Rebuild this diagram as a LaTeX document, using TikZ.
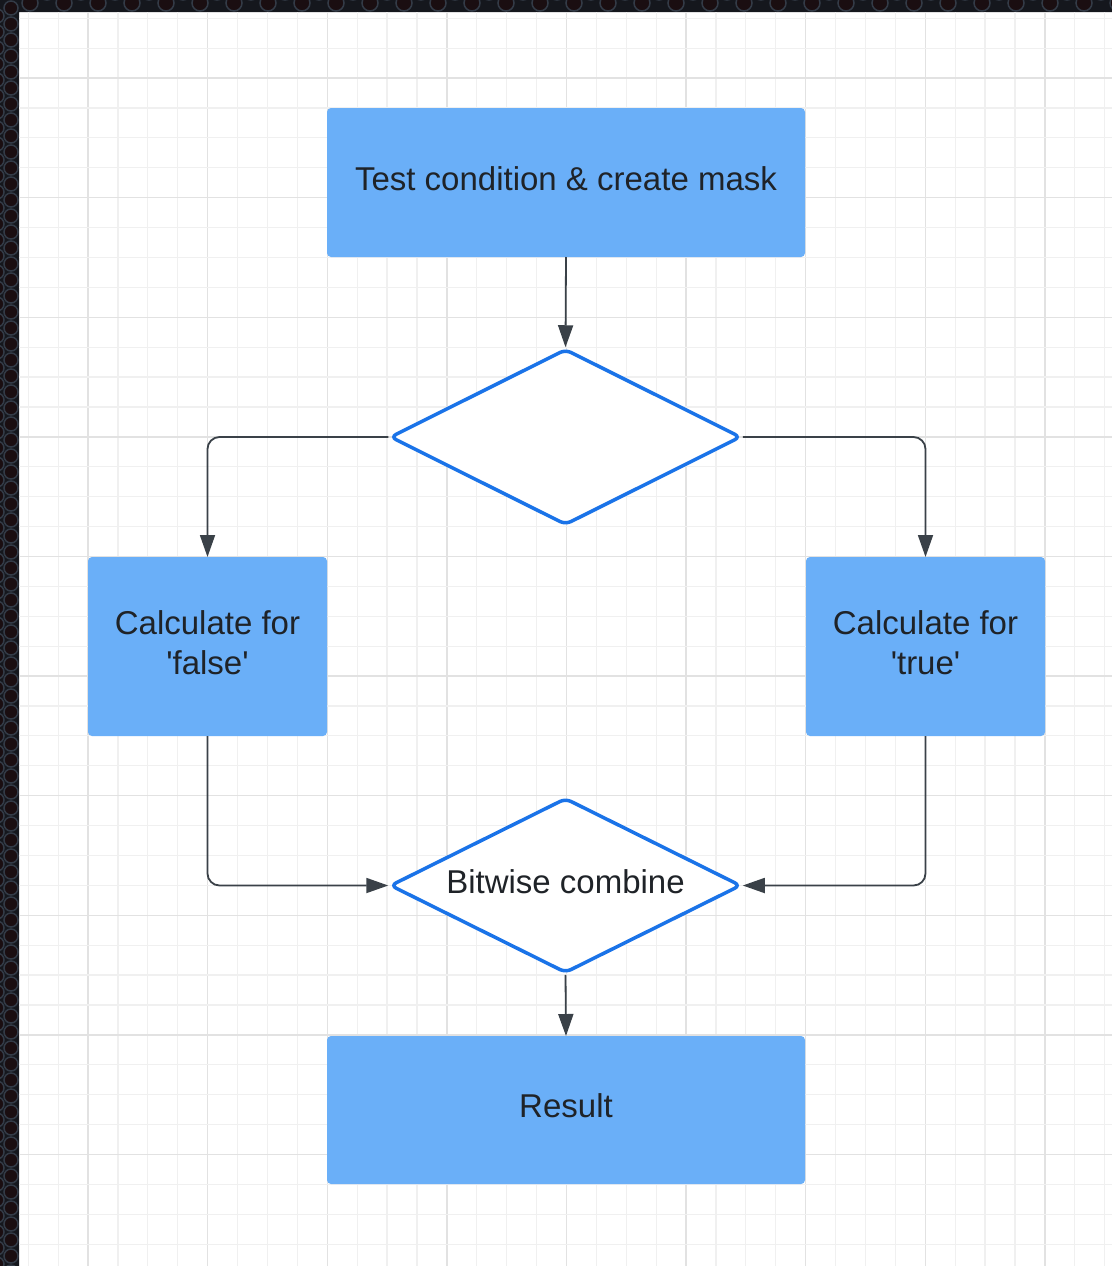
\documentclass[tikz,border=0pt]{standalone}
\usepackage{fontspec}
\setmainfont{Liberation Sans}
\usetikzlibrary{shapes.geometric,arrows.meta}

\definecolor{boxfill}{HTML}{6AAFF8}
\definecolor{diaedge}{HTML}{1A73E8}
\definecolor{wire}{HTML}{3A4148}
\definecolor{inkc}{HTML}{1F2328}
\definecolor{gridminor}{HTML}{F0F0F0}
\definecolor{gridmajor}{HTML}{E2E2E2}
\definecolor{frame}{HTML}{15171D}
\definecolor{holefill}{HTML}{1A0E11}
\definecolor{holering}{HTML}{333B47}

\tikzset{
  procbox/.style={rectangle, fill=boxfill, rounded corners=4pt, inner sep=0pt, outer sep=0pt},
  decision/.style={diamond, shape aspect=2, draw=diaedge, line width=3.5pt, fill=white, rounded corners=6pt,
    inner sep=0pt, minimum width=351pt, minimum height=176pt},
  caption/.style={text=inkc, align=center, font=\fontsize{33}{40}\selectfont, inner sep=0pt, yshift=4pt},
  link/.style={draw=wire, line width=1.8pt, rounded corners=12pt,
    -{Triangle[length=22pt,width=15pt]}},
}

\begin{document}
\begin{tikzpicture}[x=1pt,y=-1pt]
\useasboundingbox (0,0) rectangle (1112,1266);
\fill[white] (0,0) rectangle (1112,1266);

% dark perforated frame along the top and left edges
\begin{scope}
  \clip (0,0) rectangle (1112,12) (0,0) rectangle (19,1266);
  \fill[frame] (0,0) rectangle (1112,1266);
  \foreach \i in {0,...,79} {
    \filldraw[fill=holefill, draw=holering, line width=1.5pt] (11,8+16*\i) circle (7);
    \filldraw[fill=holefill, draw=holering, line width=1.5pt] (-3,16+16*\i) circle (7);
  }
  \foreach \i in {0,...,33} {
    \filldraw[fill=holefill, draw=holering, line width=1.5pt] (30+34*\i,3) circle (8);
    \filldraw[fill=holefill, draw=holering, line width=1.5pt] (47+34*\i,-8) circle (8);
  }
\end{scope}

% background grid
\begin{scope}
  \clip (19,12) rectangle (1112,1266);
  \foreach \i in {0,...,36} {
    \pgfmathsetmacro{\gx}{28.2+29.9*\i}
    \pgfmathtruncatemacro{\m}{mod(\i,4)}
    \ifnum\m=2
      \draw[gridmajor, line width=1.4pt] (\gx,12) -- (\gx,1266);
    \else
      \draw[gridminor, line width=1.2pt] (\gx,12) -- (\gx,1266);
    \fi
  }
  \foreach \i in {0,...,42} {
    \pgfmathsetmacro{\gy}{18.2+29.9*\i}
    \pgfmathtruncatemacro{\m}{mod(\i,4)}
    \ifnum\m=2
      \draw[gridmajor, line width=1.4pt] (19,\gy) -- (1112,\gy);
    \else
      \draw[gridminor, line width=1.2pt] (19,\gy) -- (1112,\gy);
    \fi
  }
\end{scope}

% flowchart nodes
\node[procbox, minimum width=478pt, minimum height=149pt,
  label={[caption, name=maskcap]center:Test condition \& create mask}] (mask) at (566,182.5) {};
\node[decision] (test) at (565.5,437) {};
\node[procbox, minimum width=239pt, minimum height=179pt,
  label={[caption, name=falsecap]center:Calculate for\\\textquotesingle false\textquotesingle}] (calcfalse) at (207.5,646.5) {};
\node[procbox, minimum width=239pt, minimum height=179pt,
  label={[caption, name=truecap]center:Calculate for\\\textquotesingle true\textquotesingle}] (calctrue) at (925.5,646.5) {};
\node[decision, minimum height=175pt,
  label={[caption, name=combinecap]center:Bitwise combine}] (combine) at (565.5,885.5) {};
\node[procbox, minimum width=478pt, minimum height=148pt,
  label={[caption, name=resultcap]center:Result}] (result) at (566,1110) {};

% connectors
\draw[link] (mask.south) -- (test.north);
\draw[link] (test.west) -| (calcfalse.north);
\draw[link] (test.east) -| (calctrue.north);
\draw[link] (calcfalse.south) |- (combine.west);
\draw[link] (calctrue.south) |- (combine.east);
\draw[link] (combine.south) -- (result.north);
\end{tikzpicture}
\end{document}
